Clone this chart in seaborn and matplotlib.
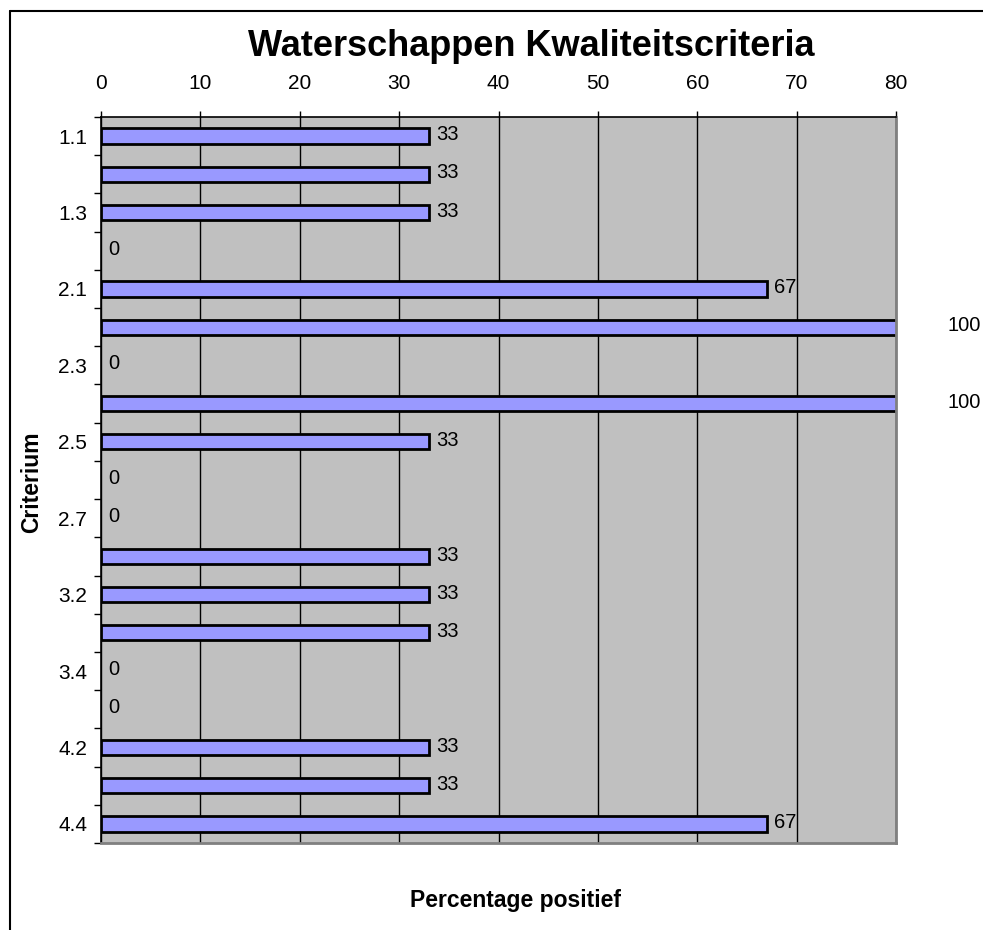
import matplotlib
matplotlib.use("Agg")
import matplotlib.pyplot as plt
from matplotlib.lines import Line2D
import seaborn as sns
import pandas as pd

criteria = ["1.1", "1.2", "1.3", "1.4", "2.1", "2.2", "2.3", "2.4", "2.5", "2.6",
            "2.7", "3.1", "3.2", "3.3", "3.4", "4.1", "4.2", "4.3", "4.4"]
percentages = [33, 33, 33, 0, 67, 100, 0, 100, 33, 0,
               0, 33, 33, 33, 0, 0, 33, 33, 67]
shown_labels = ["1.1", "", "1.3", "", "2.1", "", "2.3", "", "2.5", "",
                "2.7", "", "3.2", "", "3.4", "", "4.2", "", "4.4"]
x_ticks = [0, 10, 20, 30, 40, 50, 60, 70, 80]

df = pd.DataFrame({"Criterium": criteria, "Percentage": percentages})

sns.set_theme(style="white")
plt.rcParams["font.family"] = ["Liberation Sans", "DejaVu Sans"]
plt.rcParams["text.color"] = "black"
plt.rcParams["xtick.color"] = "black"
plt.rcParams["ytick.color"] = "black"

W, H = 983, 930
fig = plt.figure(figsize=(W / 100, H / 100), dpi=100)
left, right, top, bottom = 101, 896, 117, 843
ax = fig.add_axes([left / W, 1 - bottom / H, (right - left) / W, (bottom - top) / H])
ax.set_facecolor("#C0C0C0")

sns.barplot(data=df, x="Percentage", y="Criterium", orient="h", ax=ax,
            color="#9999FF", saturation=1, edgecolor="black", linewidth=2,
            width=0.4, order=criteria)

# empty bars get no outline
for patch in ax.patches:
    if patch.get_width() == 0:
        patch.set_linewidth(0)

xmax = x_ticks[-1]
ax.set_xlim(0, xmax)
ax.set_ylim(len(criteria) - 0.5, -0.5)

# vertical gridlines behind the bars
ax.set_axisbelow(True)
ax.xaxis.grid(True, color="black", linewidth=1)
ax.yaxis.grid(False)

# x axis on top
ax.xaxis.tick_top()
ax.set_xticks(x_ticks)
ax.set_xticklabels([str(t) for t in x_ticks])
ax.tick_params(axis="x", top=True, bottom=False, direction="out", length=4,
               width=1, color="black", pad=13, labelsize=15)

# category labels without marks; marks sit between categories
ax.set_yticks(range(len(criteria)))
ax.set_yticklabels(shown_labels)
ax.tick_params(axis="y", which="major", left=False, length=0, pad=10, labelsize=15)
ax.set_yticks([i - 0.5 for i in range(len(criteria) + 1)], minor=True)
ax.tick_params(axis="y", which="minor", left=True, direction="out", length=5,
               width=1, color="black")

for side in ["top", "left"]:
    ax.spines[side].set_visible(True)
    ax.spines[side].set_color("black")
    ax.spines[side].set_linewidth(1.2)
for side in ["right", "bottom"]:
    ax.spines[side].set_visible(True)
    ax.spines[side].set_color("#808080")
    ax.spines[side].set_linewidth(2)

ax.set_xlabel("")
ax.set_ylabel("")

# value labels
for i, v in enumerate(percentages):
    if v > xmax:
        ax.annotate(str(v), xy=(xmax, i), xytext=(37, 1), textcoords="offset points",
                    ha="left", va="center", fontsize=14.5, annotation_clip=False)
    else:
        ax.annotate(str(v), xy=(v, i), xytext=(5.5, 1),
                    textcoords="offset points", ha="left", va="center", fontsize=14.5)

fig.text(531 / W, 1 - 47 / H, "Waterschappen Kwaliteitscriteria", ha="center",
         va="center", fontsize=26, fontweight="bold")
fig.text(516 / W, 1 - 900 / H, "Percentage positief", ha="center", va="center",
         fontsize=16.5, fontweight="bold")
fig.text(32 / W, 1 - 482 / H, "Criterium", ha="center", va="center",
         rotation=90, fontsize=16.5, fontweight="bold")

# outer chart frame
fig.add_artist(Line2D([9.5 / W, 9.5 / W], [0, 1 - 11 / H], color="black",
                      linewidth=1.5, transform=fig.transFigure))
fig.add_artist(Line2D([9.5 / W, 1], [1 - 11 / H, 1 - 11 / H], color="black",
                      linewidth=1.5, transform=fig.transFigure))

fig.savefig("out.png", dpi=100, facecolor="white")
